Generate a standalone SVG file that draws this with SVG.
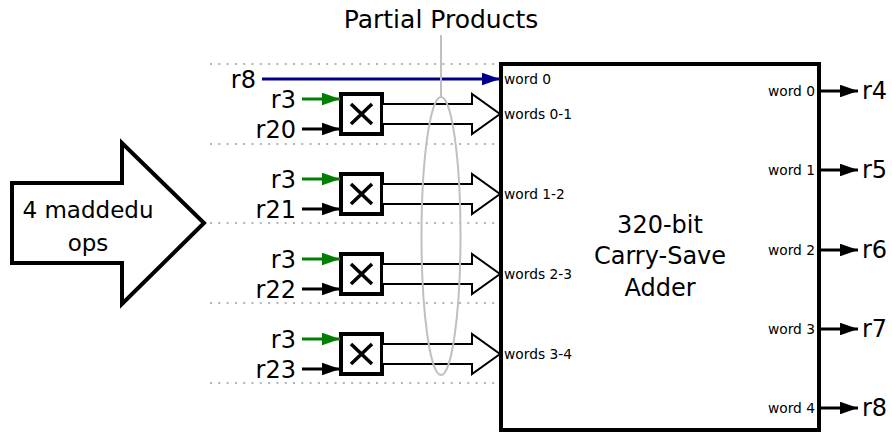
<svg xmlns="http://www.w3.org/2000/svg" width="892" height="433" viewBox="0 0 892 433">
<defs>
<style>
text{font-family:"DejaVu Sans","Liberation Sans",sans-serif;fill:#000}
.big{font-size:24px}
.sm{font-size:13.8px}
.dot{stroke:#b4b4b4;stroke-width:2;stroke-dasharray:2 6.3;fill:none}
.in{stroke-width:3;fill:none}
.mul{fill:#fff;stroke:#000;stroke-width:4}
.x{stroke:#000;stroke-width:3.5;stroke-linecap:butt}
.fat{fill:#fff;stroke:#000;stroke-width:2;stroke-linejoin:miter}
.gray{stroke:#c0c0c0;stroke-width:2;fill:none}
</style>
<marker id="ah" viewBox="0 0 10 10" refX="10" refY="5" markerWidth="6" markerHeight="4.2" markerUnits="strokeWidth" orient="auto" preserveAspectRatio="none"><path d="M0,0L10,5L0,10z" fill="#000"/></marker>
<marker id="ahg" viewBox="0 0 10 10" refX="10" refY="5" markerWidth="6" markerHeight="4.2" markerUnits="strokeWidth" orient="auto" preserveAspectRatio="none"><path d="M0,0L10,5L0,10z" fill="#008000"/></marker>
<marker id="ahb" viewBox="0 0 10 10" refX="10" refY="5" markerWidth="6" markerHeight="4.2" markerUnits="strokeWidth" orient="auto" preserveAspectRatio="none"><path d="M0,0L10,5L0,10z" fill="#00008b"/></marker>
</defs>
<rect width="892" height="433" fill="#fff"/>
<g id="guides">
<line class="dot" x1="210" y1="64" x2="500" y2="64"/>
<line class="dot" x1="210" y1="144" x2="500" y2="144"/>
<line class="dot" x1="210" y1="223" x2="500" y2="223"/>
<line class="dot" x1="210" y1="303" x2="500" y2="303"/>
<line class="dot" x1="210" y1="383" x2="500" y2="383"/>
</g>
<g id="ops">
<polygon points="12,183 122,183 122,143 204,223 122,304 122,263 12,263" fill="#fff" stroke="#000" stroke-width="4" stroke-linejoin="miter"/>
<text class="big" x="88" y="218" text-anchor="middle" style="font-size:23px">4 maddedu</text>
<text class="big" x="88" y="251" text-anchor="middle" style="font-size:23px">ops</text>
</g>
<g id="adder">
<rect x="501" y="64" width="318" height="366" fill="#fff" stroke="#000" stroke-width="4"/>
<text class="big" x="660" y="233" text-anchor="middle">320-bit</text>
<text class="big" x="660" y="264" text-anchor="middle">Carry-Save</text>
<text class="big" x="660" y="296" text-anchor="middle">Adder</text>
<text class="sm" x="504" y="84">word 0</text>
<text class="sm" x="504" y="119">words 0-1</text>
<text class="sm" x="504" y="199">word 1-2</text>
<text class="sm" x="504" y="279">words 2-3</text>
<text class="sm" x="504" y="359">words 3-4</text>
<text class="sm" x="815" y="96" text-anchor="end">word 0</text>
<text class="sm" x="815" y="175" text-anchor="end">word 1</text>
<text class="sm" x="815" y="255" text-anchor="end">word 2</text>
<text class="sm" x="815" y="334" text-anchor="end">word 3</text>
<text class="sm" x="815" y="413" text-anchor="end">word 4</text>
</g>
<g id="mul0">
<rect class="mul" x="341" y="94" width="41" height="40"/>
<line class="x" x1="351" y1="104" x2="372" y2="124"/><line class="x" x1="372" y1="104" x2="351" y2="124"/>
<text class="big" x="296" y="108" text-anchor="end">r3</text>
<text class="big" x="296" y="138" text-anchor="end">r20</text>
</g>
<g id="mul1">
<rect class="mul" x="341" y="174" width="41" height="40"/>
<line class="x" x1="351" y1="184" x2="372" y2="204"/><line class="x" x1="372" y1="184" x2="351" y2="204"/>
<text class="big" x="296" y="188" text-anchor="end">r3</text>
<text class="big" x="296" y="218" text-anchor="end">r21</text>
</g>
<g id="mul2">
<rect class="mul" x="341" y="254" width="41" height="40"/>
<line class="x" x1="351" y1="264" x2="372" y2="284"/><line class="x" x1="372" y1="264" x2="351" y2="284"/>
<text class="big" x="296" y="268" text-anchor="end">r3</text>
<text class="big" x="296" y="298" text-anchor="end">r22</text>
</g>
<g id="mul3">
<rect class="mul" x="341" y="334" width="41" height="40"/>
<line class="x" x1="351" y1="344" x2="372" y2="364"/><line class="x" x1="372" y1="344" x2="351" y2="364"/>
<text class="big" x="296" y="348" text-anchor="end">r3</text>
<text class="big" x="296" y="378" text-anchor="end">r23</text>
</g>
<g id="r8in">
<text class="big" x="256" y="88" text-anchor="end">r8</text>
</g>
<g id="outputs">
<text class="big" x="862" y="99">r4</text>
<text class="big" x="862" y="178">r5</text>
<text class="big" x="862" y="258">r6</text>
<text class="big" x="862" y="337">r7</text>
<text class="big" x="862" y="416">r8</text>
</g>
<g id="connectors">
<line class="in" x1="262" y1="79" x2="500" y2="79" stroke="#00008b" marker-end="url(#ahb)"/>
<g stroke="#008000">
<line class="in" x1="302" y1="99" x2="340" y2="99" marker-end="url(#ahg)"/>
<line class="in" x1="302" y1="179" x2="340" y2="179" marker-end="url(#ahg)"/>
<line class="in" x1="302" y1="259" x2="340" y2="259" marker-end="url(#ahg)"/>
<line class="in" x1="302" y1="339" x2="340" y2="339" marker-end="url(#ahg)"/>
</g>
<g stroke="#000">
<line class="in" x1="302" y1="129" x2="340" y2="129" marker-end="url(#ah)"/>
<line class="in" x1="302" y1="209" x2="340" y2="209" marker-end="url(#ah)"/>
<line class="in" x1="302" y1="289" x2="340" y2="289" marker-end="url(#ah)"/>
<line class="in" x1="302" y1="369" x2="340" y2="369" marker-end="url(#ah)"/>
<line class="in" x1="821" y1="91" x2="858" y2="91" marker-end="url(#ah)"/>
<line class="in" x1="821" y1="170" x2="858" y2="170" marker-end="url(#ah)"/>
<line class="in" x1="821" y1="250" x2="858" y2="250" marker-end="url(#ah)"/>
<line class="in" x1="821" y1="329" x2="858" y2="329" marker-end="url(#ah)"/>
<line class="in" x1="821" y1="408" x2="858" y2="408" marker-end="url(#ah)"/>
</g>
<path class="fat" d="M383,104H472V94L500,114L472,134V124H383"/>
<path class="fat" d="M383,184H472V174L500,194L472,214V204H383"/>
<path class="fat" d="M383,264H472V254L500,274L472,294V284H383"/>
<path class="fat" d="M383,344H472V334L500,354L472,374V364H383"/>
</g>
<g id="partial-products">
<ellipse class="gray" cx="441" cy="236" rx="19.5" ry="139"/>
<line class="gray" x1="441" y1="35" x2="441" y2="97"/>
<text class="big" x="441" y="28" text-anchor="middle" style="font-size:25px">Partial Products</text>
</g>
</svg>
